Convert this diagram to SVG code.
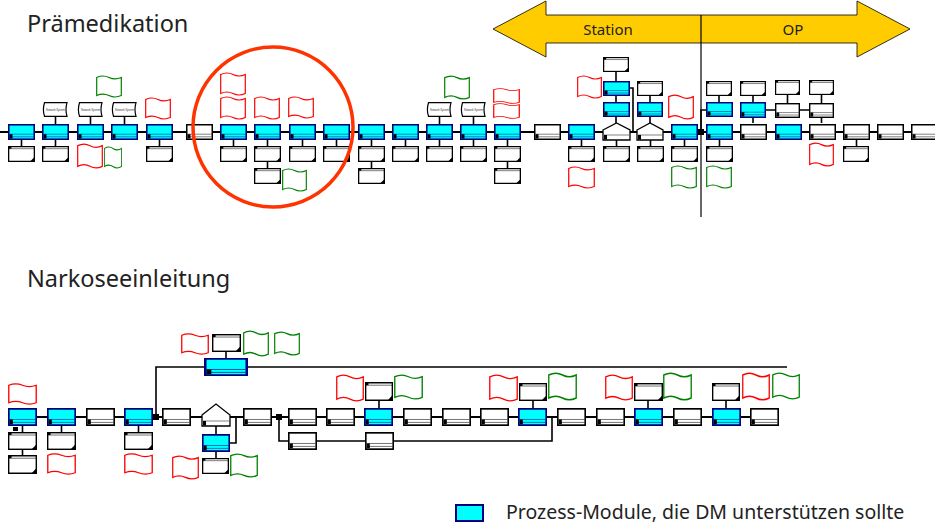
<svg xmlns="http://www.w3.org/2000/svg" width="935" height="525" viewBox="0 0 935 525">
<style>
.title{font-family:"Noto Sans","Open Sans",sans-serif;font-size:23.5px;fill:#222}
.band{font-family:"Noto Sans","Open Sans",sans-serif;font-size:15px;fill:#222}
.leg{font-family:"Noto Sans","Open Sans",sans-serif;font-size:19.5px;fill:#222}
.tiny{font-family:"Liberation Sans",sans-serif;font-size:2.6px;fill:#333}
.conn{fill:none;stroke:#000;stroke-width:1.6}
.main{fill:none;stroke:#000;stroke-width:2.2}
.pent{fill:#fff;stroke:#000;stroke-width:1.3}
</style>
<defs>
<symbol id="pc" viewBox="0 0 27 16" preserveAspectRatio="none">
<rect x="0.75" y="0.75" width="25.5" height="14.5" fill="#00ffff" stroke="#000080" stroke-width="1.6"/>
<path d="M1.5,10.2H25.5M1.5,12.8H25.5" stroke="#000080" stroke-width="0.5"/>
<rect x="1.5" y="10.2" width="3" height="4.3" fill="#000"/>
</symbol>
<symbol id="pw" viewBox="0 0 27 16" preserveAspectRatio="none">
<rect x="0.75" y="0.75" width="25.5" height="14.5" fill="#fff" stroke="#000" stroke-width="1.5"/>
<path d="M1.5,10.2H25.5M1.5,12.8H25.5" stroke="#000" stroke-width="0.5"/>
<rect x="1.5" y="10.2" width="3" height="4.3" fill="#000"/>
</symbol>
<symbol id="doc" viewBox="0 0 26 16" preserveAspectRatio="none">
<rect x="0.6" y="0.6" width="24.8" height="14.8" fill="#fff" stroke="#000" stroke-width="1.3"/>
<path d="M0.6,2.7H25.4" stroke="#000" stroke-width="0.5"/>
<rect x="0.6" y="0.6" width="2.6" height="2.1" fill="#000"/>
<polygon points="25.4,11.2 25.4,15.4 21.2,15.4" fill="#000"/>
</symbol>
<symbol id="ns" viewBox="0 0 27 15" preserveAspectRatio="none">
<path d="M2.5,0.7H25Q23,7.5 25,14.3H2.5Q0.3,7.5 2.5,0.7Z" fill="#fff" stroke="#000" stroke-width="1.2"/>
</symbol>
<symbol id="wr" viewBox="0 0 26 24" preserveAspectRatio="none">
<path d="M0.7,2.5Q7,-0.5 13,2.5T25.3,2.5V21.5Q19,24.5 13,21.5T0.7,21.5Z" fill="#fff" stroke="#ff0000" stroke-width="1.2"/>
</symbol>
<symbol id="wg" viewBox="0 0 26 24" preserveAspectRatio="none">
<path d="M0.7,2.5Q7,-0.5 13,2.5T25.3,2.5V21.5Q19,24.5 13,21.5T0.7,21.5Z" fill="#fff" stroke="#008000" stroke-width="1.2"/>
</symbol>
</defs>
<rect width="935" height="525" fill="#fff"/>

<text class="title" x="27" y="32">Prämedikation</text>
<text class="title" x="27" y="287">Narkoseeinleitung</text>

<g id="phase-arrow">
<polygon points="493,29 546,1 546,15 857,15 857,1 910,29 857,57 857,43 546,43 546,57" fill="#ffcc00" stroke="#000" stroke-width="0.8"/>
<text class="band" x="608" y="35" text-anchor="middle">Station</text>
<text class="band" x="793" y="35" text-anchor="middle">OP</text>
</g>

<g id="connectors">
<path class="main" d="M0,132H935"/>
<path class="conn" d="M21.5,140V146M55.5,140V146M159.5,140V146M233.5,140V146M267.5,140V146M302.5,140V146M336.5,140V146M371.5,140V146M405.5,140V146M439.5,140V146M473.5,140V146M507.5,140V146M581.5,140V146M616.5,140V146M650.5,140V146M684.5,140V146M719.5,140V146M856.5,140V146M267.5,162V168M371.5,162V168M507.5,162V168M55.5,117V124M90.5,117V124M124.5,117V124M439.5,117V124M473.5,117V124M616,72V81M616,96V102M616,117V123M629,88H633V132M650,96V102M650,117V123M719,96V102M701,132V110H706M753,96V102M753,118V123M787.5,95V103M821.5,95V103M821.5,118V123M766,110H775M800,110H809"/>
<path class="main" d="M20,417H765"/>
<path class="conn" d="M156,417V367H787M216,426V434M230,443H236V417M279,417V441H552V417M22.5,426V432M22.5,450V455M61.5,426V432M138.5,426V432M216,452V458M226,352V358M379,401V408M533,401V408M648,401V408M726,401V408"/>
<rect x="153" y="414" width="6" height="6" fill="#000"/>
<rect x="276" y="414" width="6" height="6" fill="#000"/>
<rect x="698" y="129" width="6" height="6" fill="#000"/>
</g>
<path id="separator" d="M701,15V217" stroke="#000" stroke-width="1.2"/>

<g id="top-row">
<g id="t-p1"><use href="#pc" x="8" y="124" width="27" height="16"/></g>
<g id="t-p2"><use href="#pc" x="42" y="124" width="27" height="16"/></g>
<g id="t-p3"><use href="#pc" x="77" y="124" width="27" height="16"/></g>
<g id="t-p4"><use href="#pc" x="111" y="124" width="27" height="16"/></g>
<g id="t-p5"><use href="#pc" x="146" y="124" width="27" height="16"/></g>
<g id="t-p6"><use href="#pw" x="186" y="124" width="27" height="16"/></g>
<g id="t-p7"><use href="#pc" x="220" y="124" width="27" height="16"/></g>
<g id="t-p8"><use href="#pc" x="254" y="124" width="27" height="16"/></g>
<g id="t-p9"><use href="#pc" x="289" y="124" width="27" height="16"/></g>
<g id="t-p10"><use href="#pc" x="323" y="124" width="27" height="16"/></g>
<g id="t-p11"><use href="#pc" x="358" y="124" width="27" height="16"/></g>
<g id="t-p12"><use href="#pc" x="392" y="124" width="27" height="16"/></g>
<g id="t-p13"><use href="#pc" x="426" y="124" width="27" height="16"/></g>
<g id="t-p14"><use href="#pc" x="460" y="124" width="27" height="16"/></g>
<g id="t-p15"><use href="#pc" x="494" y="124" width="27" height="16"/></g>
<g id="t-p16"><use href="#pw" x="534" y="124" width="27" height="16"/></g>
<g id="t-p17"><use href="#pc" x="568" y="124" width="27" height="16"/></g>
<g id="t-p18"><path class="pent" d="M603,130L616.5,123L630,130V140H603Z"/><path d="M604,135H629" stroke="#000" stroke-width="0.5"/><rect x="604" y="135" width="3" height="4.5" fill="#000"/></g>
<g id="t-p19"><path class="pent" d="M637,130L650,123L663,130V140H637Z"/><path d="M638,135H662" stroke="#000" stroke-width="0.5"/><rect x="638" y="135" width="3" height="4.5" fill="#000"/></g>
<g id="t-p20"><use href="#pc" x="671" y="124" width="27" height="16"/></g>
<g id="t-p21"><use href="#pc" x="706" y="124" width="27" height="16"/></g>
<g id="t-p22"><use href="#pw" x="740" y="124" width="27" height="16"/></g>
<g id="t-p23"><use href="#pc" x="775" y="124" width="27" height="16"/></g>
<g id="t-p24"><use href="#pw" x="809" y="124" width="27" height="16"/></g>
<g id="t-p25"><use href="#pw" x="843" y="124" width="27" height="16"/></g>
<g id="t-p26"><use href="#pw" x="877" y="124" width="27" height="16"/></g>
<g id="t-p27"><use href="#pw" x="911" y="124" width="27" height="16"/></g>
</g>

<g id="top-upper">
<g id="t-ns1"><use href="#ns" x="42" y="102" width="27" height="15"/><text class="tiny" x="55.5" y="110.5" text-anchor="middle">Network System</text></g>
<g id="t-ns2"><use href="#ns" x="77" y="102" width="27" height="15"/><text class="tiny" x="90.5" y="110.5" text-anchor="middle">Network System</text></g>
<g id="t-ns3"><use href="#ns" x="111" y="102" width="27" height="15"/><text class="tiny" x="124.5" y="110.5" text-anchor="middle">Network System</text></g>
<g id="t-ns4"><use href="#ns" x="426" y="102" width="27" height="15"/><text class="tiny" x="439.5" y="110.5" text-anchor="middle">Network System</text></g>
<g id="t-ns5"><use href="#ns" x="460" y="102" width="27" height="15"/><text class="tiny" x="473.5" y="110.5" text-anchor="middle">Network System</text></g>
<g id="t-g1"><use href="#wg" x="96" y="75" width="26" height="23"/></g>
<g id="t-r1"><use href="#wr" x="145" y="97" width="26" height="23"/></g>
<g id="t-r2"><use href="#wr" x="220" y="72" width="26" height="24"/></g>
<g id="t-r3"><use href="#wr" x="220" y="96" width="26" height="24"/></g>
<g id="t-r4"><use href="#wr" x="254" y="96" width="26" height="24"/></g>
<g id="t-r5"><use href="#wr" x="288" y="96" width="26" height="23"/></g>
<g id="t-g2"><use href="#wg" x="444" y="75" width="26" height="25"/></g>
<g id="t-r6"><use href="#wr" x="493" y="88" width="27" height="16"/></g>
<g id="t-r7"><use href="#wr" x="493" y="103" width="27" height="16"/></g>
<g id="t-r8"><use href="#wr" x="577" y="75" width="25" height="24"/></g>
<g id="t-d603a"><use href="#doc" x="603" y="57" width="26" height="15"/></g>
<g id="t-c603a"><use href="#pc" x="603" y="81" width="27" height="15"/></g>
<g id="t-c603b"><use href="#pc" x="603" y="102" width="27" height="15"/></g>
<g id="t-d637"><use href="#doc" x="637" y="81" width="26" height="15"/></g>
<g id="t-c637"><use href="#pc" x="637" y="102" width="26" height="15"/></g>
<g id="t-r9"><use href="#wr" x="668" y="94" width="26" height="26"/></g>
<g id="t-d706"><use href="#doc" x="706" y="81" width="26" height="15"/></g>
<g id="t-c706"><use href="#pc" x="706" y="102" width="27" height="15"/></g>
<g id="t-d740"><use href="#doc" x="740" y="81" width="26" height="15"/></g>
<g id="t-c740"><use href="#pc" x="740" y="102" width="26" height="16"/></g>
<g id="t-d775"><use href="#doc" x="775" y="80" width="25" height="15"/></g>
<g id="t-w775"><use href="#pw" x="775" y="103" width="25" height="15"/></g>
<g id="t-d809"><use href="#doc" x="809" y="80" width="25" height="15"/></g>
<g id="t-w809"><use href="#pw" x="809" y="103" width="25" height="15"/></g>
</g>

<g id="top-lower">
<g id="t-d1"><use href="#doc" x="8" y="146" width="27" height="16"/></g>
<g id="t-d2"><use href="#doc" x="42" y="146" width="27" height="16"/></g>
<g id="t-r10"><use href="#wr" x="77" y="143" width="26" height="26"/></g>
<g id="t-g3"><use href="#wg" x="104" y="146" width="18" height="23"/></g>
<g id="t-d5"><use href="#doc" x="146" y="146" width="27" height="16"/></g>
<g id="t-d7"><use href="#doc" x="220" y="146" width="27" height="16"/></g>
<g id="t-d8"><use href="#doc" x="254" y="146" width="27" height="16"/></g>
<g id="t-d8b"><use href="#doc" x="254" y="168" width="27" height="16"/></g>
<g id="t-g4"><use href="#wg" x="282" y="168" width="25" height="24"/></g>
<g id="t-d9"><use href="#doc" x="289" y="146" width="27" height="16"/></g>
<g id="t-d10"><use href="#doc" x="323" y="146" width="27" height="16"/></g>
<g id="t-d11"><use href="#doc" x="358" y="146" width="27" height="16"/></g>
<g id="t-d11b"><use href="#doc" x="358" y="168" width="27" height="16"/></g>
<g id="t-d12"><use href="#doc" x="392" y="146" width="27" height="16"/></g>
<g id="t-d13"><use href="#doc" x="426" y="146" width="27" height="16"/></g>
<g id="t-d14"><use href="#doc" x="460" y="146" width="27" height="16"/></g>
<g id="t-d15"><use href="#doc" x="494" y="146" width="27" height="16"/></g>
<g id="t-d15b"><use href="#doc" x="494" y="168" width="27" height="16"/></g>
<g id="t-d17"><use href="#doc" x="568" y="146" width="27" height="16"/></g>
<g id="t-r11"><use href="#wr" x="568" y="166" width="27" height="23"/></g>
<g id="t-d18"><use href="#doc" x="603" y="146" width="27" height="16"/></g>
<g id="t-d19"><use href="#doc" x="637" y="146" width="27" height="16"/></g>
<g id="t-d20"><use href="#doc" x="671" y="146" width="27" height="16"/></g>
<g id="t-g5"><use href="#wg" x="671" y="165" width="26" height="24"/></g>
<g id="t-d21"><use href="#doc" x="706" y="146" width="27" height="16"/></g>
<g id="t-g6"><use href="#wg" x="706" y="165" width="26" height="24"/></g>
<g id="t-r12"><use href="#wr" x="809" y="142" width="25" height="25"/></g>
<g id="t-d25"><use href="#doc" x="843" y="146" width="26" height="16"/></g>
</g>

<circle id="highlight" cx="273" cy="127" r="80" fill="none" stroke="#ff3300" stroke-width="3.5"/>

<g id="bottom-row">
<g id="b-p1"><use href="#pc" x="8" y="408" width="29" height="18"/></g>
<g id="b-p2"><use href="#pc" x="47" y="408" width="29" height="18"/></g>
<g id="b-p3"><use href="#pw" x="86" y="408" width="29" height="18"/></g>
<g id="b-p4"><use href="#pc" x="124" y="408" width="29" height="18"/></g>
<g id="b-p5"><use href="#pw" x="162" y="408" width="29" height="18"/></g>
<g id="b-p6"><path class="pent" d="M202,415L216,404L230,415V426H202Z"/><path d="M203,421H229" stroke="#000" stroke-width="0.5"/><rect x="203" y="421" width="3" height="4.5" fill="#000"/></g>
<g id="b-p7"><use href="#pw" x="243" y="408" width="29" height="18"/></g>
<g id="b-p8"><use href="#pw" x="288" y="408" width="29" height="18"/></g>
<g id="b-p9"><use href="#pw" x="326" y="408" width="29" height="18"/></g>
<g id="b-p10"><use href="#pc" x="364" y="408" width="29" height="18"/></g>
<g id="b-p11"><use href="#pw" x="403" y="408" width="29" height="18"/></g>
<g id="b-p12"><use href="#pw" x="442" y="408" width="29" height="18"/></g>
<g id="b-p13"><use href="#pw" x="480" y="408" width="29" height="18"/></g>
<g id="b-p14"><use href="#pc" x="518" y="408" width="29" height="18"/></g>
<g id="b-p15"><use href="#pw" x="557" y="408" width="29" height="18"/></g>
<g id="b-p16"><use href="#pw" x="596" y="408" width="29" height="18"/></g>
<g id="b-p17"><use href="#pc" x="634" y="408" width="29" height="18"/></g>
<g id="b-p18"><use href="#pw" x="673" y="408" width="29" height="18"/></g>
<g id="b-p19"><use href="#pc" x="712" y="408" width="29" height="18"/></g>
<g id="b-p20"><use href="#pw" x="750" y="408" width="29" height="18"/></g>
<g id="b-bc"><use href="#pc" x="204" y="358" width="44" height="18"/></g>
<g id="b-py"><use href="#pc" x="202" y="434" width="28" height="18"/></g>
<g id="b-alt1"><use href="#pw" x="288" y="432" width="29" height="18"/></g>
<g id="b-alt2"><use href="#pw" x="365" y="432" width="29" height="18"/></g>
</g>

<g id="bottom-attachments">
<g id="b-r1"><use href="#wr" x="8" y="383" width="29" height="22"/></g>
<g id="b-d1"><use href="#doc" x="8" y="432" width="29" height="18"/></g>
<g id="b-d1b"><use href="#doc" x="8" y="455" width="29" height="19"/></g>
<rect id="b-icon" x="13" y="427" width="5" height="4" fill="#000"/>
<g id="b-d2"><use href="#doc" x="47" y="432" width="29" height="18"/></g>
<g id="b-r2"><use href="#wr" x="47" y="453" width="29" height="22"/></g>
<g id="b-d4"><use href="#doc" x="124" y="432" width="29" height="18"/></g>
<g id="b-r3"><use href="#wr" x="124" y="453" width="29" height="22"/></g>
<g id="b-r4"><use href="#wr" x="181" y="333" width="28" height="22"/></g>
<g id="b-dbc"><use href="#doc" x="212" y="334" width="29" height="18"/></g>
<g id="b-g1"><use href="#wg" x="243" y="330" width="26" height="27"/></g>
<g id="b-g2"><use href="#wg" x="274" y="331" width="26" height="25"/></g>
<g id="b-r5"><use href="#wr" x="172" y="455" width="27" height="25"/></g>
<g id="b-dpy"><use href="#doc" x="202" y="458" width="27" height="16"/></g>
<g id="b-g3"><use href="#wg" x="230" y="453" width="28" height="25"/></g>
<g id="b-r6"><use href="#wr" x="336" y="374" width="28" height="28"/></g>
<g id="b-d10"><use href="#doc" x="365" y="382" width="28" height="19"/></g>
<g id="b-g4"><use href="#wg" x="394" y="374" width="29" height="26"/></g>
<g id="b-r7"><use href="#wr" x="489" y="374" width="29" height="28"/></g>
<g id="b-d14"><use href="#doc" x="519" y="383" width="28" height="18"/></g>
<g id="b-g5"><use href="#wg" x="548" y="372" width="29" height="29"/></g>
<g id="b-r8"><use href="#wr" x="605" y="374" width="28" height="27"/></g>
<g id="b-d17"><use href="#doc" x="634" y="383" width="29" height="18"/></g>
<g id="b-g6"><use href="#wg" x="663" y="372" width="29" height="29"/></g>
<g id="b-d19"><use href="#doc" x="712" y="383" width="28" height="18"/></g>
<g id="b-r9"><use href="#wr" x="742" y="372" width="28" height="29"/></g>
<g id="b-g7"><use href="#wg" x="772" y="372" width="28" height="28"/></g>
</g>

<g id="legend">
<rect x="456" y="505" width="27" height="16" fill="#00ffff" stroke="#000080" stroke-width="2"/>
<text class="leg" x="506" y="519">Prozess-Module, die DM unterstützen sollte</text>
</g>
</svg>
